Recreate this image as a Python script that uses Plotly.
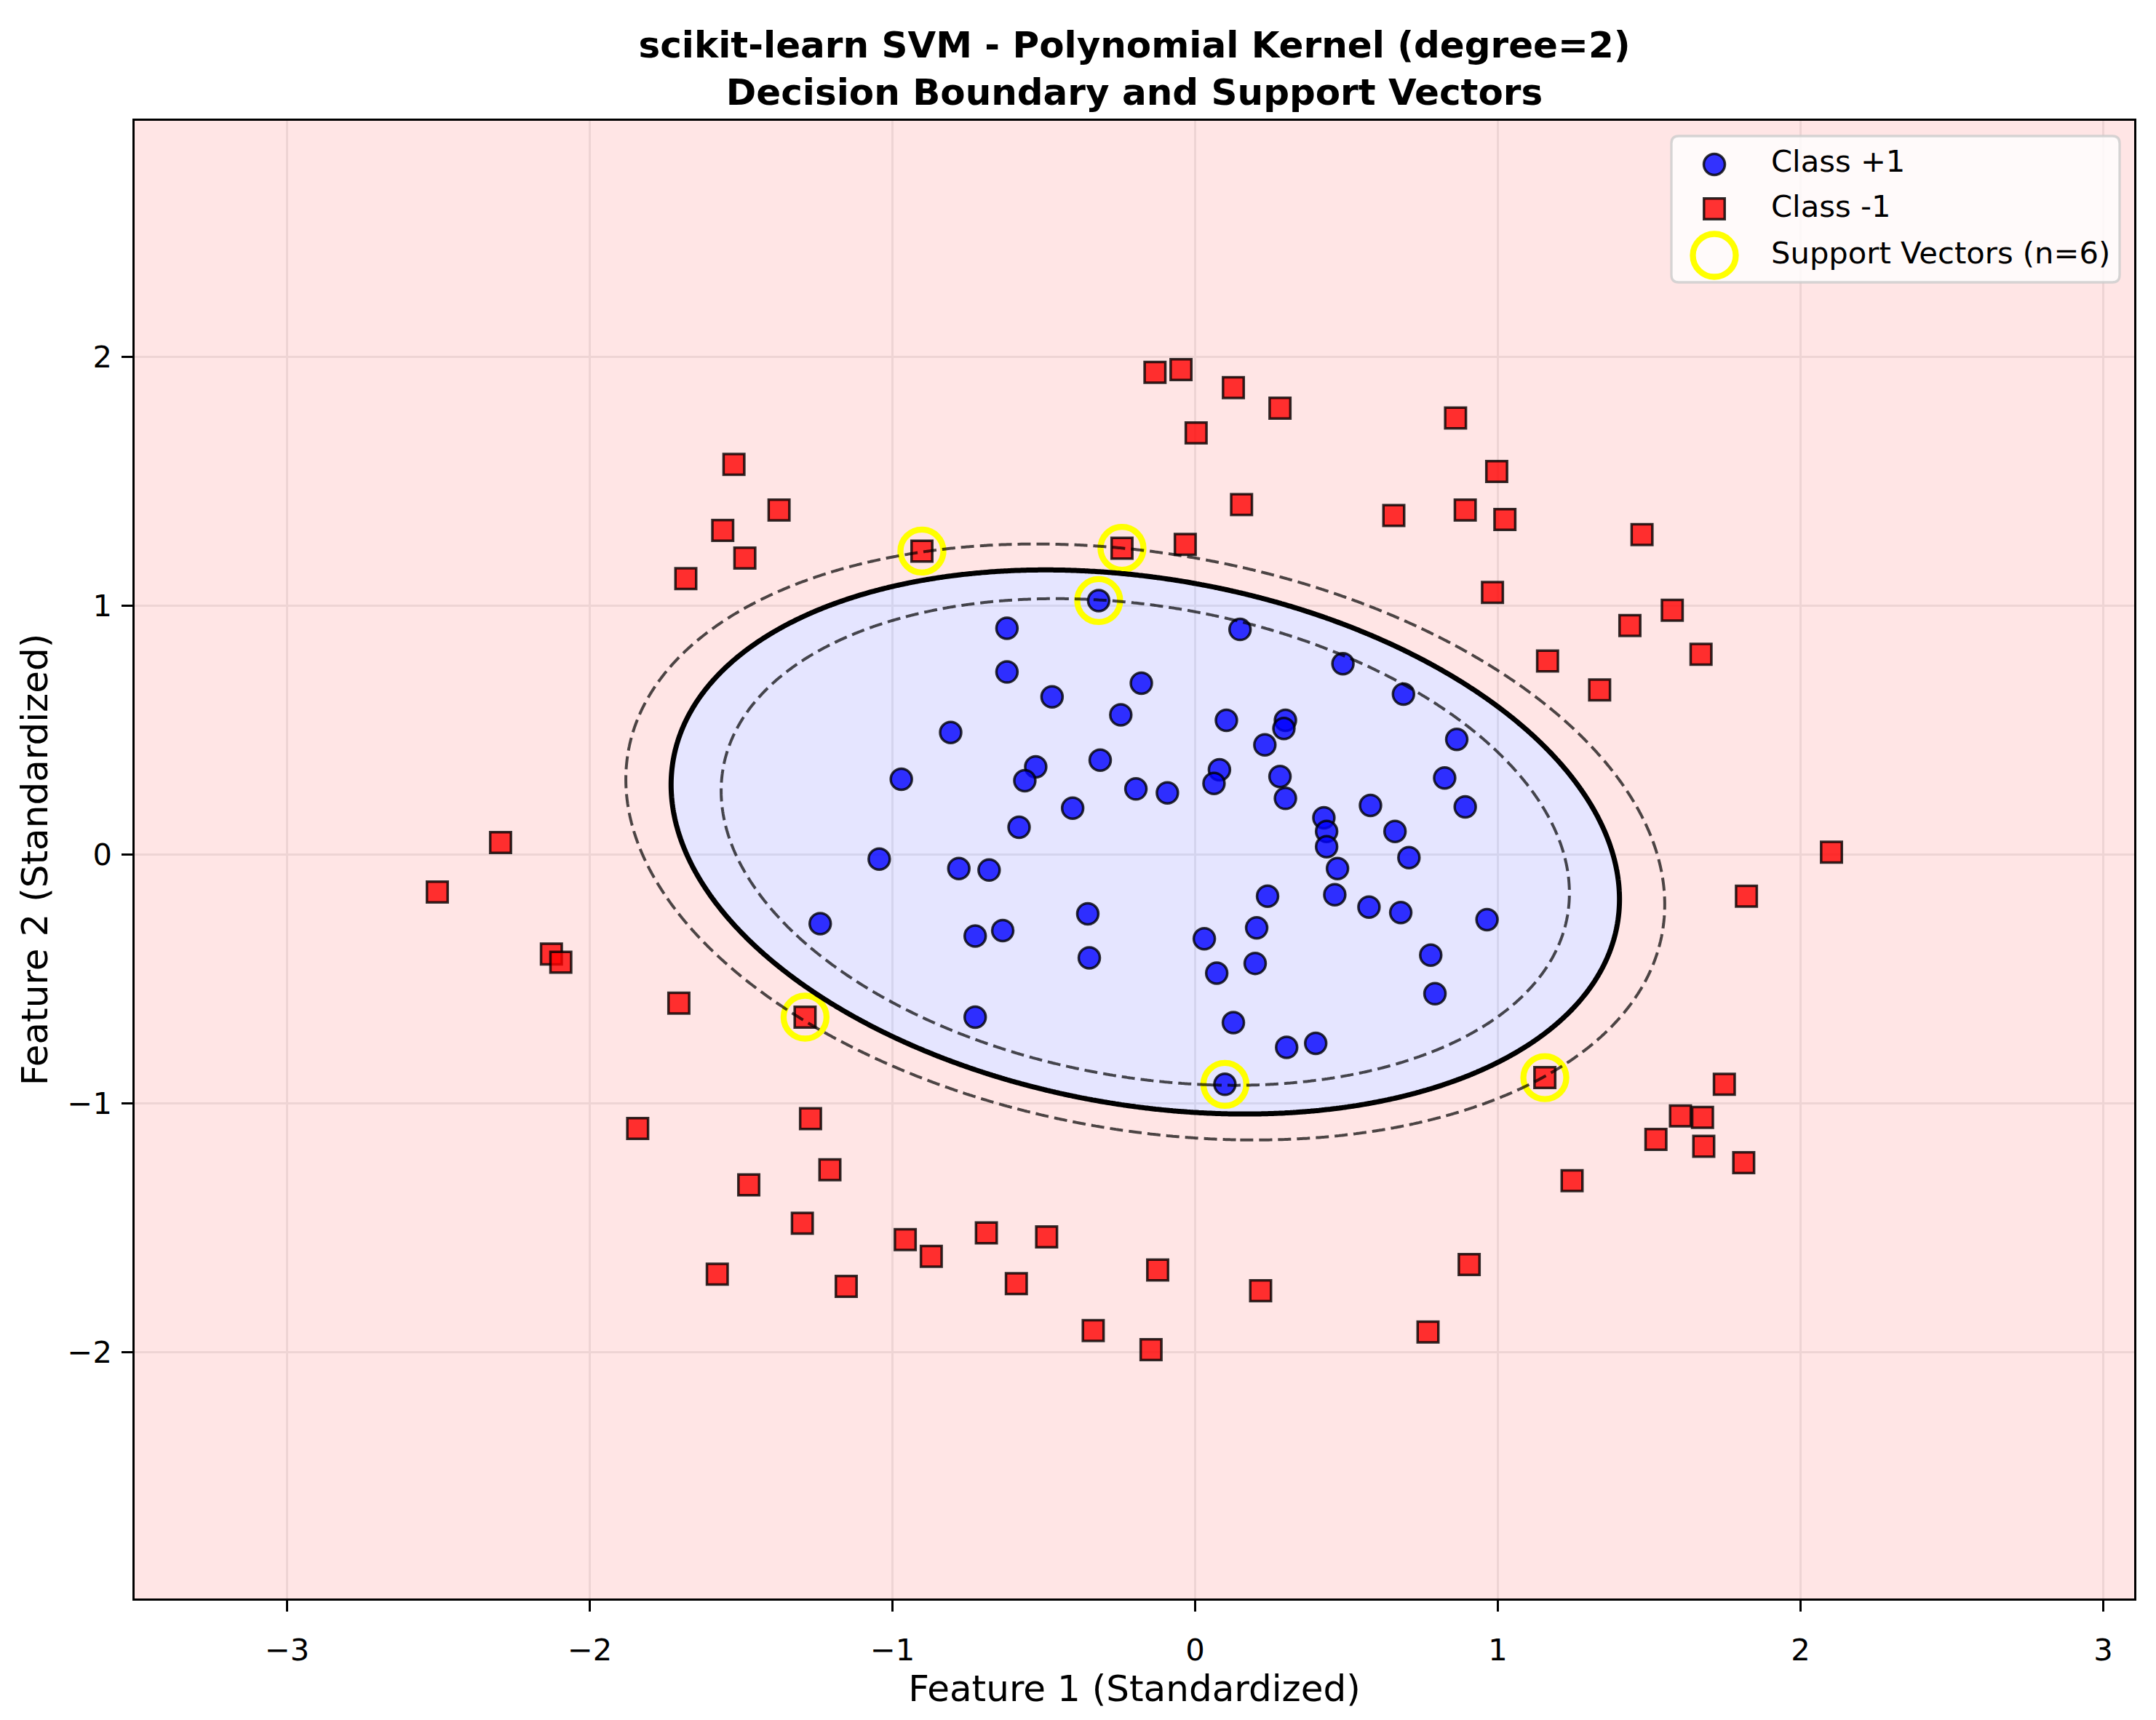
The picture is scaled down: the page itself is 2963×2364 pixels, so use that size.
import numpy as np
import plotly.graph_objects as go

# ---------------- data ----------------
blue_x = [-0.319, -0.622, -0.622, -0.473, -0.808, -0.178, -0.246, 0.148, 0.488, 0.688,
          0.298, 0.293, 0.103, 0.230, -0.314, -0.527, -0.563, -0.971, -0.196, -0.092,
          0.080, 0.062, 0.280, 0.298, 0.579, 0.824, 0.864, 0.892, -0.405, -0.582,
          0.425, 0.434, 0.434, 0.660, -1.044, -0.781, -0.681, 0.706, 0.470, 0.239,
          0.461, 0.574, 0.679, 0.964, -1.239, -0.355, 0.203, 0.030, -0.727, -0.636,
          -0.350, 0.198, 0.071, 0.778, 0.792, 0.126, -0.727, 0.398, 0.302, 0.098]
blue_y = [1.020, 0.909, 0.733, 0.633, 0.490, 0.688, 0.561, 0.904, 0.766, 0.644,
          0.539, 0.506, 0.539, 0.440, 0.379, 0.352, 0.296, 0.302, 0.263, 0.247,
          0.340, 0.285, 0.313, 0.225, 0.197, 0.307, 0.462, 0.191, 0.186, 0.109,
          0.147, 0.092, 0.031, 0.092, -0.019, -0.057, -0.063, -0.013, -0.057, -0.168,
          -0.162, -0.212, -0.234, -0.262, -0.278, -0.239, -0.295, -0.339, -0.328, -0.306,
          -0.416, -0.438, -0.477, -0.405, -0.560, -0.676, -0.654, -0.759, -0.775, -0.924]

red_x = [-0.133, -0.047, 0.126, 0.280, 0.003, 0.860, 0.996, -1.524, -1.375, -1.561,
         -1.488, -1.683, -0.903, -0.242, -0.033, 0.153, 0.656, 0.892, 1.023, 1.476,
         0.982, 1.576, 1.436, 1.671, 1.164, 1.336, -2.295, -2.504, -2.127, -2.096,
         -1.706, -1.289, 2.102, 1.821, 1.155, 1.748, -1.842, -1.271, -1.207, -1.475,
         -1.298, -0.958, -0.872, -0.690, -0.591, -0.491, -1.153, -1.579, -0.124, -0.337,
         -0.146, 0.216, 1.245, 0.769, 0.905, 1.603, 1.676, 1.522, 1.680, 1.812]
red_y = [1.937, 1.948, 1.876, 1.793, 1.694, 1.754, 1.539, 1.567, 1.384, 1.302,
         1.191, 1.108, 1.219, 1.230, 1.246, 1.406, 1.362, 1.384, 1.346, 1.285,
         1.053, 0.981, 0.920, 0.804, 0.777, 0.661, 0.048, -0.151, -0.400, -0.433,
         -0.598, -0.654, 0.009, -0.168, -0.897, -0.924, -1.101, -1.062, -1.267, -1.328,
         -1.482, -1.548, -1.615, -1.521, -1.725, -1.537, -1.736, -1.687, -1.670, -1.913,
         -1.990, -1.753, -1.311, -1.919, -1.648, -1.051, -1.057, -1.145, -1.173, -1.239]

sv_x = [-0.319, 0.098, -0.903, -0.242, -1.289, 1.155]
sv_y = [1.020, -0.924, 1.219, 1.230, -0.654, -0.897]

x_ticks = [-3, -2, -1, 0, 1, 2, 3]
x_tick_labels = ["\u22123", "\u22122", "\u22121", "0", "1", "2", "3"]
y_ticks = [-2, -1, 0, 1, 2]
y_tick_labels = ["\u22122", "\u22121", "0", "1", "2"]

x_range = [-3.504, 3.102]
y_range = [-2.990, 2.948]

# decision function (quadratic, read from the drawn boundary):
# f(p) = scale * (1 - (p - c)^T M (p - c)); f=0 boundary, f=+-1 margins
boundary_center = [-0.165, 0.050]
boundary_matrix = [[0.4263, 0.1284], [0.1284, 0.8755]]
margin_scale = 5.0

legend_labels = ["Class +1", "Class -1", "Support Vectors (n=6)"]

# ---------------- decision grid ----------------
gx = np.linspace(x_range[0], x_range[1], 700)
gy = np.linspace(y_range[0], y_range[1], 700)
XX, YY = np.meshgrid(gx, gy)
U = XX - boundary_center[0]
V = YY - boundary_center[1]
m = boundary_matrix
Q = m[0][0] * U ** 2 + 2 * m[0][1] * U * V + m[1][1] * V ** 2
Z = margin_scale * (1.0 - Q)

FONT = "DejaVu Sans"
fig = go.Figure()

# filled regions (constraint contours shade the region that fails the test)
fig.add_trace(go.Contour(
    x=gx, y=gy, z=Z, showscale=False, hoverinfo="skip",
    contours=dict(type="constraint", operation=">", value=0),
    fillcolor="rgba(255,170,170,0.3)", line=dict(width=0)))
fig.add_trace(go.Contour(
    x=gx, y=gy, z=Z, showscale=False, hoverinfo="skip",
    contours=dict(type="constraint", operation="<", value=0),
    fillcolor="rgba(170,170,255,0.3)", line=dict(width=0)))

# points
fig.add_trace(go.Scatter(
    x=blue_x, y=blue_y, mode="markers", name=legend_labels[0],
    marker=dict(symbol="circle", size=29, color="rgba(0,0,255,0.8)",
                line=dict(color="rgba(0,0,0,0.8)", width=3.5))))
fig.add_trace(go.Scatter(
    x=red_x, y=red_y, mode="markers", name=legend_labels[1],
    marker=dict(symbol="square", size=28.5, color="rgba(255,0,0,0.8)",
                line=dict(color="rgba(0,0,0,0.8)", width=3.5))))
fig.add_trace(go.Scatter(
    x=sv_x, y=sv_y, mode="markers", name=legend_labels[2],
    marker=dict(symbol="circle", size=59, color="rgba(0,0,0,0)",
                line=dict(color="#ffff00", width=8.3))))

# boundary and margins on an overlay subplot (drawn above the points)
fig.add_trace(go.Contour(
    x=gx, y=gy, z=Z, showscale=False, hoverinfo="skip", xaxis="x2", yaxis="y2",
    autocontour=False,
    contours=dict(coloring="none", start=0, end=0, size=1, showlines=True),
    line=dict(color="black", width=7)))
fig.add_trace(go.Contour(
    x=gx, y=gy, z=Z, showscale=False, hoverinfo="skip", xaxis="x2", yaxis="y2",
    autocontour=False,
    contours=dict(coloring="none", start=-1, end=1, size=2, showlines=True),
    line=dict(color="rgba(0,0,0,0.7)", width=4, dash="18px,8px")))

# ---------------- layout geometry ----------------
# page has an 8px body margin; figure is sized so the plot lands where the reference has it
OFF = 8
FIG_W, FIG_H = 2963 - 2 * OFF, 2364 - 2 * OFF
L, R, T, B = 185, 2933, 166, 2197          # plot area in page pixels
PW, PH = R - L, B - T


def px_x(p):
    return (p - L) / PW


def px_y(p):
    return (B - p) / PH


shapes = []
w, h, r = 308, 100.5, 10
path = (f"M {-w + r},{-h} L {w - r},{-h} Q {w},{-h} {w},{-h + r} L {w},{h - r} "
        f"Q {w},{h} {w - r},{h} L {-w + r},{h} Q {-w},{h} {-w},{h - r} "
        f"L {-w},{-h + r} Q {-w},{-h} {-w + r},{-h} Z")
shapes.append(dict(type="path", xref="paper", yref="paper", xsizemode="pixel",
                   ysizemode="pixel", xanchor=px_x(2605), yanchor=px_y(287.5),
                   path=path, fillcolor="rgba(255,255,255,0.8)",
                   line=dict(color="rgba(204,204,204,0.8)", width=3.3), layer="above"))
mx = px_x(2356)
rows = [226, 287, 351]
shapes.append(dict(type="circle", xref="paper", yref="paper", xsizemode="pixel",
                   ysizemode="pixel", xanchor=mx, yanchor=px_y(rows[0]),
                   x0=-14.5, x1=14.5, y0=-14.5, y1=14.5,
                   fillcolor="rgba(0,0,255,0.8)",
                   line=dict(color="rgba(0,0,0,0.8)", width=3.5), layer="above"))
shapes.append(dict(type="rect", xref="paper", yref="paper", xsizemode="pixel",
                   ysizemode="pixel", xanchor=mx, yanchor=px_y(rows[1]),
                   x0=-14.25, x1=14.25, y0=-14.25, y1=14.25,
                   fillcolor="rgba(255,0,0,0.8)",
                   line=dict(color="rgba(0,0,0,0.8)", width=3.5), layer="above"))
shapes.append(dict(type="circle", xref="paper", yref="paper", xsizemode="pixel",
                   ysizemode="pixel", xanchor=mx, yanchor=px_y(rows[2]),
                   x0=-29.5, x1=29.5, y0=-29.5, y1=29.5,
                   fillcolor="rgba(0,0,0,0)",
                   line=dict(color="#ffff00", width=8.3), layer="above"))

annotations = []
for lab, ry in zip(legend_labels, rows):
    annotations.append(dict(text=lab, xref="paper", yref="paper", x=px_x(2432),
                            y=px_y(ry - 4), xanchor="left", yanchor="middle",
                            showarrow=False, font=dict(family=FONT, size=41.7, color="black")))

axis_common = dict(showgrid=True, gridcolor="#e7e7e7", gridwidth=3.3, zeroline=False,
                   showline=True, mirror=True, linecolor="black", linewidth=3.3,
                   ticks="outside", ticklen=14.6, tickwidth=3.3, tickcolor="black",
                   tickfont=dict(family=FONT, size=41.7, color="black"))

fig.update_layout(
    width=FIG_W, height=FIG_H,
    margin=dict(l=L - OFF, r=FIG_W - (R - OFF), t=T - OFF, b=FIG_H - (B - OFF), pad=0),
    paper_bgcolor="white", plot_bgcolor="white",
    showlegend=False, hovermode=False,
    font=dict(family=FONT, color="black"),
    title=dict(text="<b>scikit-learn SVM - Polynomial Kernel (degree=2)<br>"
                    "Decision Boundary and Support Vectors</b>",
               x=0.5, xref="paper", xanchor="center",
               y=1 - 71 / FIG_H, yref="container", yanchor="top",
               font=dict(family=FONT, size=50, color="black")),
    xaxis=dict(range=x_range, tickvals=x_ticks, ticktext=x_tick_labels,
               ticklabelstandoff=17,
               title=dict(text="Feature 1 (Standardized)",
                          font=dict(family=FONT, size=50, color="black"), standoff=2),
               **axis_common),
    yaxis=dict(range=y_range, tickvals=y_ticks, ticktext=y_tick_labels,
               ticklabelstandoff=5,
               title=dict(text="Feature 2 (Standardized)",
                          font=dict(family=FONT, size=50, color="black"), standoff=11),
               **axis_common),
    xaxis2=dict(overlaying="x", range=x_range, visible=False, anchor="y2"),
    yaxis2=dict(overlaying="y", range=y_range, visible=False, anchor="x2"),
    shapes=shapes,
    annotations=annotations,
)

fig.write_html("out.html")
